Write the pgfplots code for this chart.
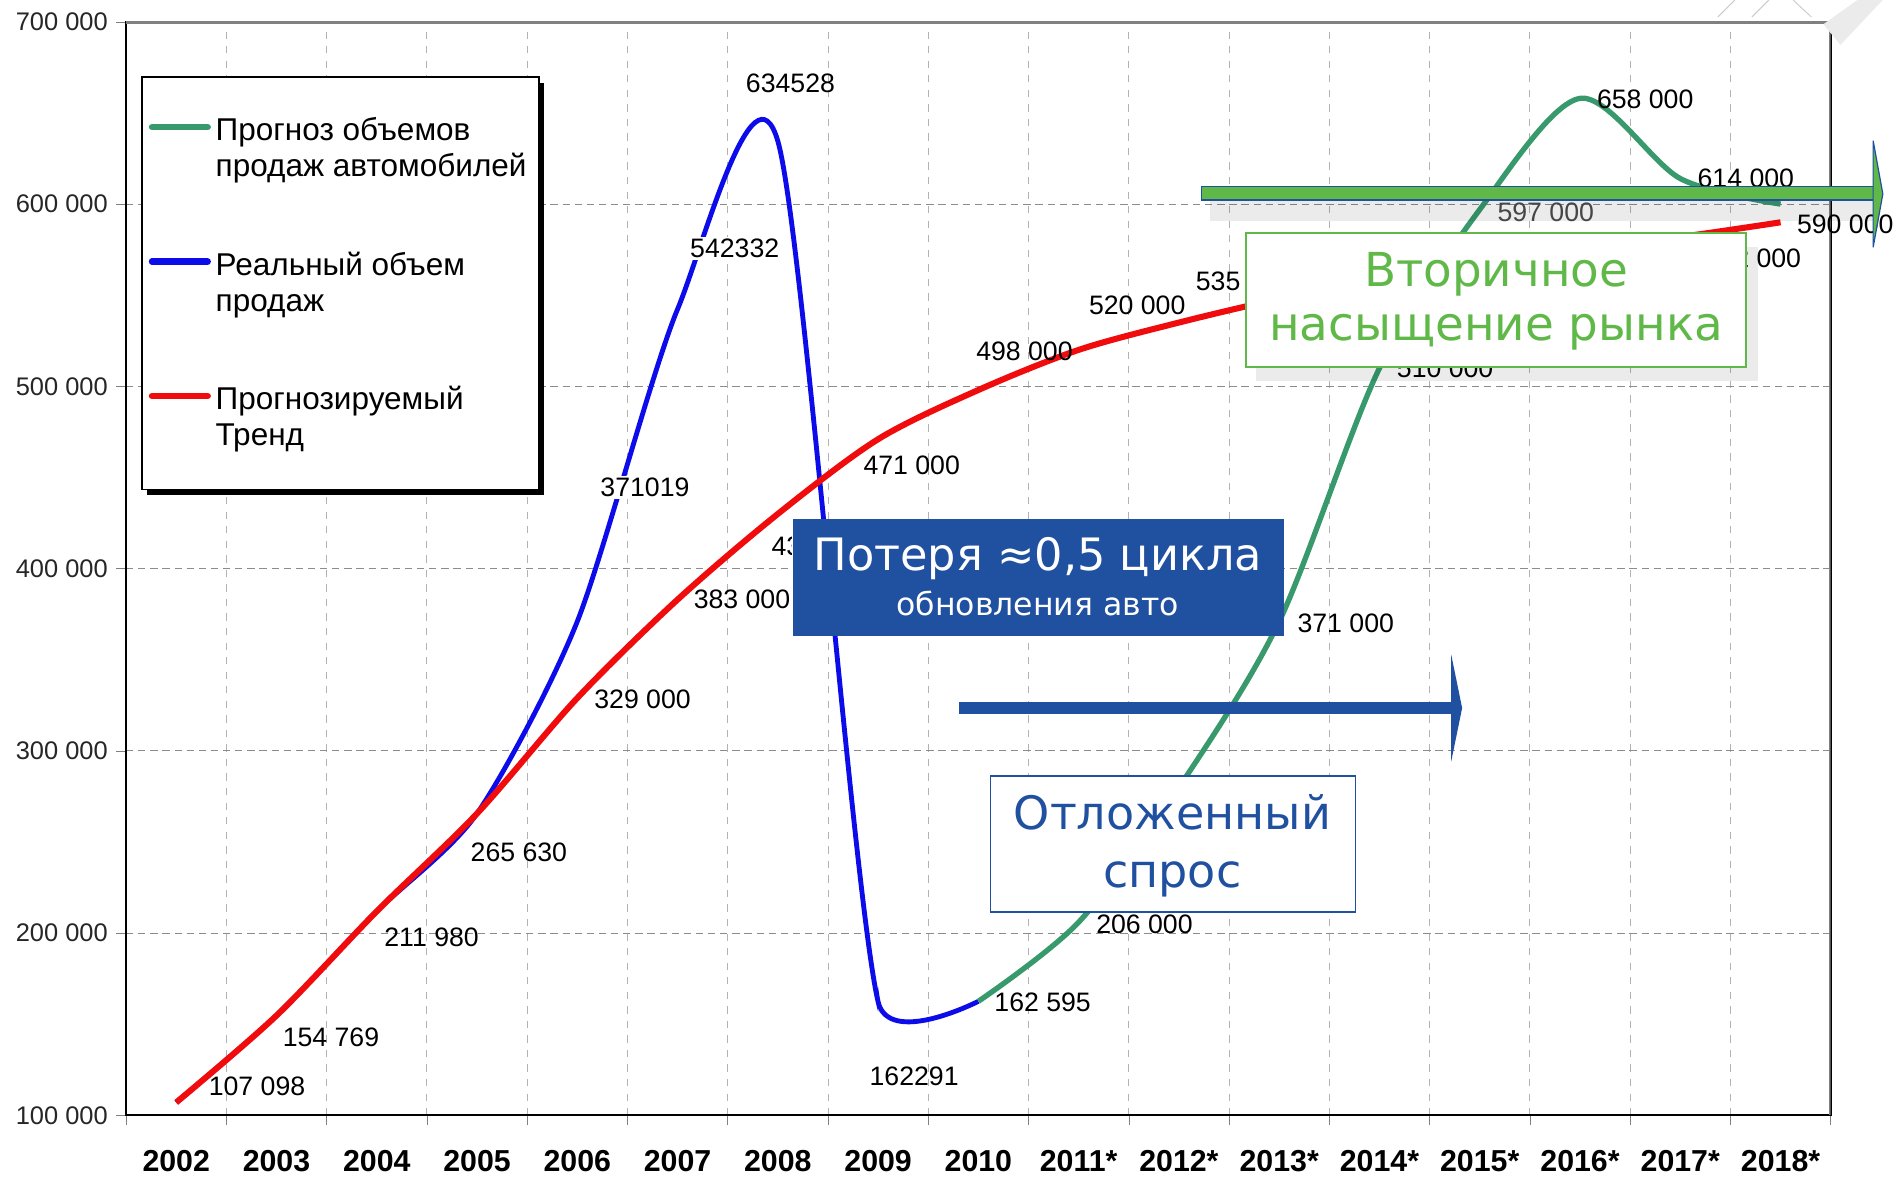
\documentclass[border=0pt]{standalone}
\usepackage{fontspec}
\setmainfont{Liberation Sans}
\newfontfamily\dejavu{DejaVu Sans}
\usepackage{pgfplots}
\pgfplotsset{compat=1.18}
\usetikzlibrary{shadows}

\makeatletter
\tikzset{no preactions/.code={\let\tikz@preactions\pgfutil@empty}}
\makeatother

\definecolor{realblue}{RGB}{12,12,235}
\definecolor{trendred}{RGB}{240,12,12}
\definecolor{fcgreen}{RGB}{56,154,108}
\definecolor{boxblue}{RGB}{32,80,160}
\definecolor{lightgreen}{RGB}{95,184,72}

\begin{document}
\begin{tikzpicture}
\begin{axis}[
  width=703pt, height=451pt, scale only axis,
  xmin=-0.5, xmax=16.5, ymin=100000, ymax=700000,
  xtick={0,...,16},
  xticklabels={2002,2003,2004,2005,2006,2007,2008,2009,2010,2011*,2012*,2013*,2014*,2015*,2016*,2017*,2018*},
  minor xtick={-0.5,0.5,...,16.5},
  ytick={100000,200000,...,700000},
  yticklabels={100 000,200 000,300 000,400 000,500 000,600 000,700 000},
  scaled y ticks=false,
  tick pos=left, tick align=outside,
  major tick length=4pt, minor tick length=4pt,
  major x tick style={draw=none},
  xminorgrids, ymajorgrids,
  minor x grid style={dash pattern=on 3pt off 3pt, black!30},
  major y grid style={dash pattern=on 3pt off 2pt, black!45},
  axis line style={black, line width=0.8pt},
  xticklabel style={font=\bfseries\fontsize{12.5}{14}\selectfont, yshift=-7pt},
  yticklabel style={font=\fontsize{10.5}{12}\selectfont, black!85, inner ysep=0pt},
  legend image code/.code={\draw[no preactions, #1, line width=2.6pt, line cap=round] (0pt,9pt) -- (23pt,9pt);},
  legend style={at={(0.0085,0.950)}, anchor=north west, draw=black, line width=0.8pt,
    fill=white, inner xsep=3pt, inner ysep=14.5pt, row sep=25.3pt,
    cells={anchor=west, align=left}, font=\fontsize{13}{15}\selectfont,
    drop shadow={shadow xshift=2.3pt, shadow yshift=-2.3pt, fill=black, opacity=1}},
]
% real sales: drawn up to 2009 with one tension, 2009-2010 with a flatter one
\begin{scope}
\clip (axis cs:-0.5,100000) rectangle (axis cs:7,700000);
\addplot[realblue, line width=2pt, smooth, tension=0.45, forget plot] coordinates {
  (0,107098) (1,154769) (2,211980) (3,265630) (4,371019) (5,542332) (6,634528) (7,162291) (8,162595)};
\end{scope}
\begin{scope}
\clip (axis cs:7,100000) rectangle (axis cs:8.5,700000);
\addplot[realblue, line width=2pt, smooth, tension=0.19, forget plot] coordinates {
  (6,634528) (7,162291) (8,162595)};
\end{scope}
% forecast of sales
\addplot[fcgreen, line width=2.2pt, smooth, forget plot] coordinates {
  (8,162595) (9,206000) (10,280000) (11,371000) (12,510000) (13,597000) (14,658000) (15,614000) (16,600000)};
% forecast trend
\addplot[trendred, line width=2.5pt, smooth, forget plot] coordinates {
  (0,107098) (1,154769) (2,211980) (3,265630) (4,329000) (5,383000) (6,430000) (7,471000) (8,498000)
  (9,520000) (10,535000) (11,548000) (12,559000) (13,568000) (14,576000) (15,582000) (16,590000)};
\addlegendimage{fcgreen}
\addlegendentry{Прогноз объемов\\продаж автомобилей}
\addlegendimage{realblue}
\addlegendentry{Реальный объем\\продаж}
\addlegendimage{trendred}
\addlegendentry{Прогнозируемый\\Тренд}
\draw[black!50, line width=1.5pt] (rel axis cs:0,1) -- (rel axis cs:1,1) -- (rel axis cs:1,0);
\end{axis}

% annotations, in pixel units of the reference (origin top left)
\begin{scope}[x=0.5pt, y=-0.5pt, shift={(-52pt,460pt)},
  lbl/.style={font=\fontsize{11}{13}\selectfont, inner sep=1pt}]
\node[lbl] at (212,896) {107 098};
\node[lbl] at (273,856) {154 769};
\node[lbl] at (356,773) {211 980};
\node[lbl] at (428,703) {265 630};
\node[lbl] at (530,577) {329 000};
\node[lbl, fill=white] at (532,402) {371019};
\node[lbl] at (612,494) {383 000};
\begin{scope}
  \clip (600,420) rectangle (653,480);
  \node[lbl, anchor=west] at (634,451) {430 000};
\end{scope}
\node[lbl, fill=white] at (606,205) {542332};
\node[lbl] at (652,69) {634528};
\node[lbl] at (752,384) {471 000};
\node[lbl] at (845,290) {498 000};
\node[lbl] at (938,252) {520 000};
\node[lbl, anchor=west] at (984,232) {535 000};
\node[lbl] at (754,888) {162291};
\node[lbl] at (860,827) {162 595};
\node[lbl] at (944,762) {206 000};
\node[lbl] at (1110,514) {371 000};
\node[lbl] at (1192,304) {510 000};
\node[lbl, black!70] at (1275,175) {597 000};
\node[lbl] at (1357,82) {658 000};
\node[lbl] at (1440,147) {614 000};
\node[lbl] at (1522,185) {590 000};
\node[lbl, anchor=east] at (1488,213) {582 000};

% corner decoration
\draw[black!20, line width=0.4pt] (1417,14) -- (1431,0) (1445,14) -- (1459,0) (1479,0) -- (1494,14);
\fill[black!8] (1504,20) -- (1518,37) -- (1553,0) -- (1532,0) -- cycle;

% loss box
\fill[boxblue] (654,428) rectangle (1059,525);
\node[white, font=\dejavu\fontsize{18.4}{21}\selectfont] at (856,461) {Потеря ≈0,5 цикла};
\node[white, font=\dejavu\fontsize{13}{15}\selectfont] at (856,498) {обновления авто};

% deferred demand arrow and box
\fill[boxblue] (791,579) rectangle (1199,589);
\fill[boxblue] (1197,540) -- (1206,584) -- (1197,628) -- cycle;
\draw[boxblue, line width=0.7pt, fill=white] (817,640) rectangle (1118,752);
\node[boxblue, font=\dejavu\fontsize{19}{22}\selectfont] at (967,670) {Отложенный};
\node[boxblue, font=\dejavu\fontsize{19}{22}\selectfont] at (967,725) {спрос};

% saturation arrow and box
\fill[black, opacity=0.08] (998,166) rectangle (1550,182);
\draw[boxblue, line width=0.5pt, fill=lightgreen] (991,154) rectangle (1545,165);
\draw[boxblue, line width=0.5pt, fill=lightgreen] (1545,116) -- (1553,160) -- (1545,204) -- cycle;
\fill[black, opacity=0.08] (1036,204) rectangle (1450,314);
\draw[lightgreen, line width=0.7pt, fill=white] (1028,192) rectangle (1440,303);
\node[lightgreen, font=\dejavu\fontsize{19.3}{22}\selectfont] at (1234,226) {Вторичное};
\node[lightgreen, font=\dejavu\fontsize{19.3}{22}\selectfont] at (1234,274) {насыщение рынка};

\pgfresetboundingbox
\path[use as bounding box] (0,0) rectangle (1568,975);
\end{scope}
\end{tikzpicture}
\end{document}
